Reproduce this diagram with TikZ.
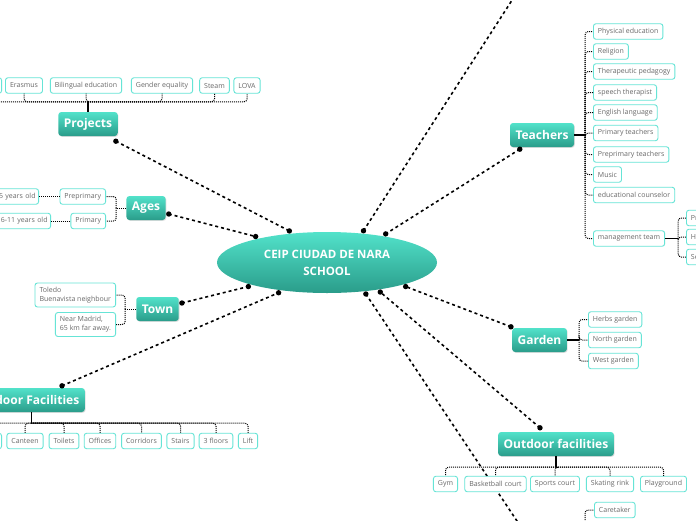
\documentclass[tikz,border=0pt]{standalone}
\usepackage{fontspec}
\setmainfont{Open Sans}
\usetikzlibrary{shapes.geometric,shadows,calc}
\definecolor{tealtop}{RGB}{82,226,202}
\definecolor{tealbot}{RGB}{42,156,138}
\definecolor{subborder}{RGB}{102,228,214}
\definecolor{subtext}{RGB}{105,105,105}
\tikzset{
 maintopic/.style={rounded corners=3pt, top color=tealtop, bottom color=tealbot, draw=none, text=white,
   font=\fontsize{12}{14}\selectfont\bfseries, minimum height=24pt, inner xsep=5.5pt, inner ysep=2pt,
   drop shadow={opacity=0.25,shadow xshift=0.8pt,shadow yshift=-0.8pt}},
 subtopic/.style={draw=subborder, line width=0.9pt, rounded corners=2.5pt, fill=white, text=subtext,
   font=\fontsize{7}{9}\selectfont, inner xsep=4.5pt, inner ysep=2pt, minimum height=15.5pt},
 mainlink/.style={black, line width=1.6pt, dash pattern=on 3pt off 3pt},
 sublink/.style={black, line width=1pt, dash pattern=on 1pt off 1pt, rounded corners=3pt},
 stemline/.style={black, line width=1.8pt},
}
\begin{document}
\begin{tikzpicture}[x=1pt,y=-1pt]
\fill[white] (0,0) rectangle (696,520);
\useasboundingbox (0,0) rectangle (696,520);

% central topic
\node[ellipse, minimum width=220pt, minimum height=61pt, top color=tealtop, bottom color=tealbot,
  text=white, font=\fontsize{11.5}{17}\selectfont\bfseries, align=center, outer sep=3pt] (center) at (327,262.5)
  {CEIP CIUDAD DE NARA\\SCHOOL};

% main topics
\node[maintopic] (projects) at (88,124) {Projects};
\node[maintopic] (ages) at (146,208) {Ages};
\node[maintopic] (town) at (157.5,309) {Town};
\node[maintopic, anchor=east] (indoor) at (85,400) {Indoor Facilities};
\node[maintopic] (teachers) at (542,135) {Teachers};
\node[maintopic] (garden) at (539.5,340) {Garden};
\node[maintopic] (outdoor) at (556,444) {Outdoor facilities};

% main connectors
\coordinate (pjA) at ([shift={(-2,5)}]projects.south east);
\coordinate (agA) at ([shift={(3,6)}]ages.east);
\coordinate (twA) at ([shift={(3,-6)}]town.east);
\coordinate (inA) at ([shift={(-23,-2)}]indoor.north east);
\coordinate (tcA) at ([shift={(10,2)}]teachers.south west);
\coordinate (gdA) at ([shift={(-1,-1)}]garden.north west);
\coordinate (odA) at ([shift={(42,-4)}]outdoor.north west);
\coordinate (topend) at (516,-6);
\coordinate (botend) at (523,530);

\draw[mainlink] (pjA) -- (center.140);
\draw[mainlink] (agA) -- (center.160);
\draw[mainlink] (twA) -- (center.197);
\draw[mainlink] (inA) -- (center.212);
\draw[mainlink] (tcA) -- (center.26);
\draw[mainlink] (gdA) -- (center.343);
\draw[mainlink] (odA) -- (center.331);
\draw[mainlink] (center.41.5) -- (topend);
\draw[mainlink] (center.321.5) -- (botend);
\foreach \p in {pjA,agA,twA,inA,tcA,gdA,odA,center.140,center.160,center.197,center.212,center.26,center.343,center.331,center.41.5,center.321.5}
  \fill (\p) circle (2.7pt);

% Projects children
\node[subtopic, minimum width=24pt, anchor=east] (proj0) at (2,85.5) {};
\node[subtopic] (erasmus) at (24,85.5) {Erasmus};
\node[subtopic] (biling) at (86,85.5) {Bilingual education};
\node[subtopic] (gender) at (162,85.5) {Gender equality};
\node[subtopic] (steam) at (214.5,85.5) {Steam};
\node[subtopic] (lova) at (247,85.5) {LOVA};
\draw[stemline] (projects.north) -- ++(0,-10) coordinate (pbus);
\foreach \c in {proj0,erasmus,biling,gender,steam,lova}
  \draw[sublink] (pbus) -| (\c.south);

% Ages children
\node[subtopic, anchor=east] (prep) at (106,196.5) {Preprimary};
\node[subtopic, anchor=east] (prim) at (106,221) {Primary};
\node[subtopic, anchor=east, inner xsep=3pt, text width=40pt, align=right] (agesa) at (39,196.5) {5 years old};
\node[subtopic, anchor=east, inner xsep=3pt, text width=52pt, align=right] (agesb) at (51,221) {6-11 years old};
\draw[sublink] (ages.west) -- ++(-10,0) coordinate (abr);
\draw[sublink] (abr) |- (prep.east);
\draw[sublink] (abr) |- (prim.east);
\draw[sublink] (prep.west) -- (agesa.east);
\draw[sublink] (prim.west) -- (agesb.east);

% Town children
\node[subtopic, anchor=east, align=left, minimum height=24pt] (town1) at (116,295) {Toledo\\Buenavista neighbour};
\node[subtopic, anchor=east, align=left, minimum height=24pt] (town2) at (116,324.5) {Near Madrid,\\65 km far away.};
\draw[sublink] (town.west) -- ++(-11,0) coordinate (tbr2);
\draw[sublink] (tbr2) |- (town1.east);
\draw[sublink] (tbr2) |- (town2.east);

% Indoor children
\node[subtopic, minimum width=24pt, anchor=east] (ind0) at (2,441) {};
\node[subtopic] (canteen) at (25,441) {Canteen};
\node[subtopic] (toilets) at (64,441) {Toilets};
\node[subtopic] (offices) at (100,441) {Offices};
\node[subtopic] (corridors) at (141.5,441) {Corridors};
\node[subtopic] (stairs) at (180.5,441) {Stairs};
\node[subtopic] (floors) at (216,441) {3 floors};
\node[subtopic] (lift) at (248,441) {Lift};
\draw[stemline] (indoor.south) -- ++(0,11) coordinate (ibus);
\foreach \c in {ind0,canteen,toilets,offices,corridors,stairs,floors,lift}
  \draw[sublink] (ibus) -| (\c.north);

% Teachers children
\node[subtopic, anchor=west] (physed) at (593,31.5) {Physical education};
\node[subtopic, anchor=west] (relig) at (593,51.5) {Religion};
\node[subtopic, anchor=west] (thera) at (593,71.5) {Therapeutic pedagogy};
\node[subtopic, anchor=west] (speech) at (593,92.5) {speech therapist};
\node[subtopic, anchor=west] (english) at (593,112.5) {English language};
\node[subtopic, anchor=west] (primt) at (593,133) {Primary teachers};
\node[subtopic, anchor=west] (prept) at (593,154.5) {Preprimary teachers};
\node[subtopic, anchor=west] (music) at (593,174.5) {Music};
\node[subtopic, anchor=west] (counsel) at (593,195) {educational counselor};
\node[subtopic, anchor=west] (mgmt) at (593,238.5) {management team};
\draw[stemline] (teachers.east) -- ++(11,0) coordinate (tchbr);
\foreach \c in {physed,relig,thera,speech,english,primt,prept,music,counsel,mgmt}
  \draw[sublink] (tchbr) |- (\c.west);

% management team children
\node[subtopic, anchor=west, text width=30pt, align=left] (mg1) at (686,218) {Pr};
\node[subtopic, anchor=west, text width=30pt, align=left] (mg2) at (686,237) {H};
\node[subtopic, anchor=west, text width=30pt, align=left] (mg3) at (686,257) {Se};
\draw[stemline, line width=1.4pt] (mgmt.east) -- ++(13,0) coordinate (mgbr);
\foreach \c in {mg1,mg2,mg3}
  \draw[sublink] (mgbr) |- (\c.west);

% Garden children
\node[subtopic, anchor=west] (herbs) at (588,319.5) {Herbs garden};
\node[subtopic, anchor=west] (north) at (588,340) {North garden};
\node[subtopic, anchor=west] (west) at (588,361) {West garden};
\draw[stemline, line width=1.4pt] (garden.east) -- ++(12,0) coordinate (gbr);
\foreach \c in {herbs,north,west}
  \draw[sublink] (gbr) |- (\c.west);

% Outdoor children
\node[subtopic] (gym) at (445.5,484) {Gym};
\node[subtopic] (basket) at (495.5,484) {Basketball court};
\node[subtopic] (sports) at (555,484) {Sports court};
\node[subtopic] (skating) at (610,484) {Skating rink};
\node[subtopic] (playground) at (663.5,484) {Playground};
\draw[stemline] (outdoor.south) -- ++(0,11) coordinate (obus);
\foreach \c in {gym,basket,sports,skating,playground}
  \draw[sublink] (obus) -| (\c.north);

% Caretaker (parent below the picture)
\node[subtopic, anchor=west] (caretaker) at (594,510) {Caretaker};
\coordinate (staffbus) at (585,530);
\draw[sublink] (staffbus) |- (caretaker.west);
\end{tikzpicture}
\end{document}
